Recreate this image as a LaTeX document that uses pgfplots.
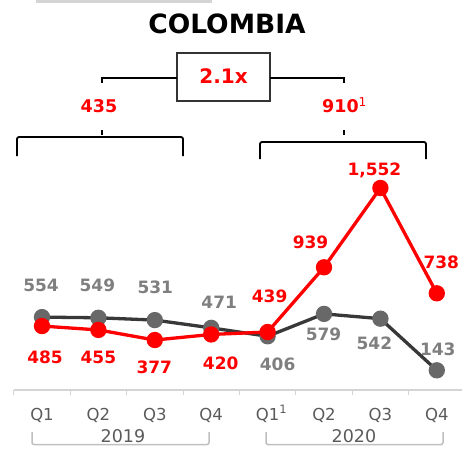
\documentclass[border=0pt]{standalone}
\usepackage{fontspec}
\setmainfont{DejaVu Sans}
\usepackage{pgfplots}
\usepackage{pgfplotstable}
\pgfplotsset{compat=1.18}
\definecolor{axgray}{HTML}{D4D4D4}
\definecolor{labgray}{HTML}{5A5A5A}
\definecolor{numgray}{HTML}{7F7F7F}
\definecolor{linegray}{HTML}{383838}
\definecolor{markgray}{HTML}{686868}
\definecolor{cred}{HTML}{FF0000}
\definecolor{boxgray}{HTML}{333333}

\pgfplotstableread{
x y dx dy
0 554 -1 25.5
1 549 -1 26.2
2 531 0.5 26.5
3 471 8 19.3
4 406 10 -34.4
5 579 -0.5 -26.2
6 542 -6 -31.2
7 143 1 14.9
}\graydata

\pgfplotstableread{
x y dx dy
0 485 3 -37.2
1 455 0 -33.2
2 377 -0.5 -33.7
3 420 9.5 -35.2
4 439 2 29.9
5 939 -13.5 18.7
6 1552 -6 12.2
7 738 4.5 24.7
}\reddata

\begin{document}
\begin{tikzpicture}
\path[use as bounding box] (0,0) rectangle (462pt,448pt);
\begin{axis}[
  at={(13.8pt,57.9pt)}, anchor=south west,
  scale only axis, width=448.38pt, height=389.5pt,
  xmin=-0.5, xmax=7.45, ymin=-10, ymax=3000,
  axis x line=bottom, axis y line=none,
  axis line style={draw=axgray, line width=1.5pt, -},
  xtick={0,...,7},
  xticklabels={Q1,Q2,Q3,Q4,Q1\rlap{\textsuperscript{1}},Q2,Q3,Q4},
  major tick length=0pt,
  minor xtick={-0.5,0.5,...,6.5}, minor tick length=5pt,
  xtick align=outside,
  tick style={draw=axgray, line width=1pt},
  xticklabel style={anchor=base, yshift=-30pt, font=\fontsize{16.5}{18}\selectfont, text=labgray},
  clip=false,
  /pgf/number format/assume math mode=true,
  visualization depends on={\thisrow{dx} \as \lblx},
  visualization depends on={\thisrow{dy} \as \lbly},
  nodes near coords={\pgfmathprintnumber[assume math mode=true]{\pgfplotspointmeta}},
]
\addplot[color=linegray, line width=3.3pt, mark=*, mark size=6.5pt,
  mark options={draw=markgray, fill=markgray},
  nodes near coords style={anchor=base, xshift=\lblx pt, yshift=\lbly pt, text=numgray,
    font=\bfseries\fontsize{17}{19}\selectfont}]
  table[x=x, y=y] {\graydata};
\addplot[color=cred, line width=3.3pt, mark=*, mark size=6.5pt,
  mark options={draw=cred, fill=cred},
  nodes near coords style={anchor=base, xshift=\lblx pt, yshift=\lbly pt, text=cred,
    font=\bfseries\fontsize{17}{19}\selectfont}]
  table[x=x, y=y] {\reddata};
\end{axis}
\begin{scope}[x=1pt, y=1pt]
  % top grey bar (cut off)
  \fill[axgray] (36,445) rectangle (212,448);
  % title
  \node[anchor=base, inner sep=0pt, font=\bfseries\fontsize{26.5}{30}\selectfont] at (227,414) {COLOMBIA};
  % ratio box
  \draw[boxgray, line width=1.3pt] (177,395) rectangle (270,347);
  \node[anchor=base, inner sep=0pt, text=cred, font=\bfseries\fontsize{20}{24}\selectfont] at (223.5,364) {2.1x};
  \draw[black, line width=1.5pt] (102,365) -- (102,370) -- (177,370);
  \draw[black, line width=1.5pt] (270,370) -- (344,370) -- (344,365);
  % period totals
  \node[anchor=base, inner sep=0pt, text=cred, font=\bfseries\fontsize{17.5}{20}\selectfont] at (99,335.7) {435};
  \node[anchor=base west, inner sep=0pt, text=cred, font=\bfseries\fontsize{17.5}{20}\selectfont] at (322,335.7) {910\textsuperscript{\mdseries 1}};
  \draw[black, line width=1.5pt] (102,318) -- (102,313);
  \draw[black, line width=1.5pt] (344,318) -- (344,313);
  % brackets
  \draw[black, line width=1.8pt, rounded corners=2pt] (17,292) -- (17,311) -- (183,311) -- (183,292);
  \draw[black, line width=1.8pt, rounded corners=2pt] (260,289) -- (260,306) -- (426,306) -- (426,289);
  % year brackets
  \draw[axgray!90!black, line width=1.5pt, rounded corners=2pt] (32,16) -- (32,3.5) -- (209,3.5) -- (209,16);
  \draw[axgray!90!black, line width=1.5pt, rounded corners=2pt] (266,16) -- (266,3.5) -- (443,3.5) -- (443,16);
  \node[anchor=base, inner sep=0pt, text=labgray, font=\fontsize{17.5}{20}\selectfont] at (123,5.5) {2019};
  \node[anchor=base, inner sep=0pt, text=labgray, font=\fontsize{17.5}{20}\selectfont] at (354,5.5) {2020};
\end{scope}
\end{tikzpicture}
\end{document}
